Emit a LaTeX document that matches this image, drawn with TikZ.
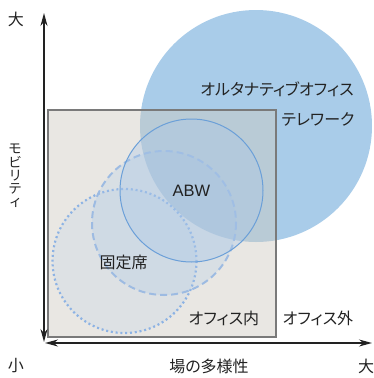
\documentclass[tikz,border=0pt]{standalone}
\usepackage{fontspec}
\setmainfont{Noto Sans CJK JP}[RawFeature=+palt]
\newfontfamily\latinfont{Liberation Sans}
\usetikzlibrary{arrows.meta}
\definecolor{bigblue}{HTML}{A9CCE9}
\definecolor{boxgray}{HTML}{CECAC1}
\definecolor{boxline}{HTML}{7A7A7A}
\definecolor{abwline}{HTML}{6A9FD8}
\definecolor{dashblue}{HTML}{9DBBE2}
\definecolor{dotblue}{HTML}{8CB2E4}
\definecolor{lightfill}{HTML}{A8C6E8}
\definecolor{axis}{HTML}{222222}
\definecolor{txt}{HTML}{222222}
\tikzset{
  lbl/.style={inner sep=0pt, text=txt, font=\fontsize{16}{16}\selectfont},
  axisline/.style={draw=axis, line width=1.4pt, {Stealth[length=13pt,width=7pt]}-{Stealth[length=13pt,width=7pt]}},
}
\begin{document}
\begin{tikzpicture}[x=1pt,y=-1pt]
\useasboundingbox (0,0) rectangle (374,378);
% big circle
\fill[bigblue] (256,126) circle (116);
% box
\fill[boxgray, fill opacity=0.45] (48,110) rectangle (276,337);
\draw[boxline, line width=1.5pt] (48,110) rectangle (276,337);
% dotted circle
\fill[lightfill, fill opacity=0.18] (124.5,261) circle (72);
\draw[dotblue, line width=2.2pt, dash pattern=on 2pt off 2.8pt] (124.5,261) circle (72);
% dashed circle
\fill[lightfill, fill opacity=0.25] (164,223) circle (72);
\draw[dashblue, line width=2pt, dash pattern=on 7pt off 4pt] (164,223) circle (72);
% ABW circle
\fill[lightfill, fill opacity=0.35] (191.5,190.5) circle (71.5);
\draw[abwline, line width=1pt] (191.5,190.5) circle (71.5);
% axes
\coordinate (vtop) at (44,13);
\coordinate (vbot) at (44,342);
\coordinate (hleft) at (45,343);
\coordinate (hright) at (372,343);
\draw[axisline] (vbot) -- (vtop);
\draw[axisline] (hleft) -- (hright);
% labels
\node[lbl] (big1) at (16,19) {大};
\node[lbl, align=center, font=\fontsize{13.5}{13.2}\selectfont] (mob) at (15,176) {モ\\ビ\\リ\\テ\\ィ};
\node[lbl] (small) at (16,366) {小};
\node[lbl] (div) at (209,366) {場の多様性};
\node[lbl] (big2) at (366,366) {大};
\node[lbl] (alt) at (277,89) {オルタナティブオフィス};
\node[lbl] (tele) at (318,119) {テレワーク};
\node[lbl, font=\latinfont\fontsize{16.5}{16.5}\selectfont] (abw) at (191.5,190.5) {ABW};
\node[lbl] (fixed) at (123.5,262) {固定席};
\node[lbl] (inside) at (224,318) {オフィス内};
\node[lbl] (outside) at (318,318) {オフィス外};
\end{tikzpicture}
\end{document}
